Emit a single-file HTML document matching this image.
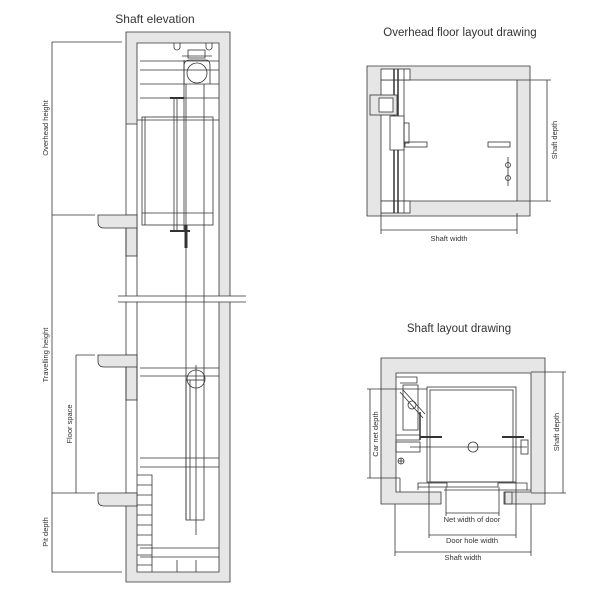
<!DOCTYPE html>
<html><head><meta charset="utf-8"><style>body{margin:0;background:#fff}svg{display:block}text{font-family:"Liberation Sans",sans-serif;fill:#333}</style></head><body>
<svg width="600" height="600" viewBox="0 0 600 600" xmlns="http://www.w3.org/2000/svg">
<g stroke="#333" stroke-width="0.8" fill="none">
<!-- ELEVATION -->
<!-- walls gray -->
<path d="M126,32 H230 V582 H126 V493 H137 V572 H219 V43 H137 V124 H126 Z" fill="#e6e6e6"/>
<rect x="126" y="215" width="11" height="41" fill="#e6e6e6"/>
<rect x="126" y="355" width="11" height="45" fill="#e6e6e6"/>
<line x1="126" y1="124" x2="126" y2="493"/>
<line x1="137" y1="124" x2="137" y2="493"/>
<!-- slabs -->
<path d="M98,215 H137 V228 H104 Q98,228 98,222 Z" fill="#e6e6e6"/>
<path d="M98,355 H137 V367 H104 Q98,367 98,361 Z" fill="#e6e6e6"/>
<path d="M98,493 H137 V506 H104 Q98,506 98,500 Z" fill="#e6e6e6"/>
<!-- break -->
<rect x="118" y="296" width="128" height="6" fill="#fff" stroke="none"/>
<line x1="118" y1="296" x2="246" y2="296"/><line x1="118" y1="302" x2="246" y2="302"/>
<!-- top lines -->
<line x1="140" y1="61" x2="219" y2="61"/><line x1="140" y1="70" x2="219" y2="70"/>
<line x1="140" y1="84" x2="219" y2="84"/><line x1="140" y1="98" x2="219" y2="98"/>
<line x1="137" y1="120" x2="219" y2="120"/>
<path d="M174,43 v4 a3,3 0 0 0 6,0 v-4 M206,43 v4 a3,3 0 0 0 6,0 v-4"/>
<rect x="188" y="50" width="17" height="8"/>
<line x1="182" y1="56" x2="212" y2="56"/>
<circle cx="197" cy="73" r="10"/>
<path d="M184,84 V66 Q184,60 190,60 H206 Q210,60 210,66 V84"/>
<!-- car -->
<rect x="142" y="117" width="71" height="108"/>
<line x1="145" y1="117" x2="145" y2="225"/>
<line x1="142" y1="213" x2="213" y2="213"/>
<!-- rails -->
<line x1="174" y1="98" x2="174" y2="230"/><line x1="177" y1="98" x2="177" y2="230"/>
<line x1="184" y1="60" x2="184" y2="230"/>
<line x1="170" y1="98" x2="184" y2="98" stroke-width="2"/>
<line x1="170" y1="231" x2="190" y2="231" stroke-width="2"/>
<line x1="186" y1="225" x2="186" y2="248" stroke-width="3"/>
<line x1="186" y1="248" x2="186" y2="520"/>
<line x1="204" y1="84" x2="204" y2="380"/>
<line x1="186" y1="84" x2="186" y2="225"/>
<!-- lower -->
<line x1="140" y1="368" x2="219" y2="368"/><line x1="140" y1="376" x2="219" y2="376"/>
<circle cx="196" cy="379" r="9"/>
<rect x="186" y="380" width="18" height="140"/>
<line x1="190" y1="380" x2="190" y2="520"/>
<line x1="196" y1="365" x2="196" y2="535"/>
<line x1="140" y1="458" x2="219" y2="458"/><line x1="140" y1="467" x2="219" y2="467"/>
<line x1="140" y1="548" x2="219" y2="548"/><line x1="140" y1="557" x2="219" y2="557"/>
<line x1="177" y1="560" x2="177" y2="572"/><line x1="196" y1="560" x2="196" y2="572"/>
<!-- ladder -->
<path d="M137,475 H152 V572 M137,485 H152 M137,495 H152 M137,505 H152 M137,515 H152 M137,525 H152 M137,535 H152 M137,545 H152 M137,555 H152 M137,565 H152"/>
<!-- dims -->
<line x1="52" y1="42" x2="52" y2="572"/>
<line x1="52" y1="42" x2="122" y2="42"/><line x1="52" y1="215" x2="95" y2="215"/>
<line x1="52" y1="493" x2="95" y2="493"/><line x1="52" y1="572" x2="122" y2="572"/>
<line x1="76" y1="355" x2="76" y2="493"/><line x1="76" y1="355" x2="95" y2="355"/>

<!-- OVERHEAD -->
<path d="M367,66 H530 V216 H367 Z M381,80 V201 H517 V80 Z" fill="#e6e6e6" fill-rule="evenodd"/>
<rect x="381" y="69" width="29" height="11" fill="#fff"/>
<rect x="381" y="201" width="29" height="12" fill="#fff"/>
<line x1="394" y1="69" x2="394" y2="213" stroke-width="1.5"/><line x1="398" y1="69" x2="398" y2="213" stroke-width="1.5"/>
<line x1="404" y1="69" x2="404" y2="213"/>
<rect x="370" y="95" width="27" height="20" fill="#e6e6e6"/>
<rect x="379" y="98" width="14" height="14" fill="#fff"/>
<rect x="390" y="116" width="14" height="34" fill="#fff"/>
<rect x="404" y="123" width="5" height="20"/>
<rect x="405" y="142" width="22" height="5"/>
<rect x="488" y="142" width="22" height="5"/>
<circle cx="508" cy="165" r="2.5"/><circle cx="508" cy="178" r="2.5"/>
<line x1="508" y1="157" x2="508" y2="186"/>
<line x1="381" y1="213" x2="381" y2="234"/><line x1="517" y1="213" x2="517" y2="234"/>
<line x1="381" y1="230" x2="517" y2="230"/>
<line x1="547" y1="80" x2="547" y2="201"/>
<line x1="517" y1="80" x2="551" y2="80"/><line x1="517" y1="201" x2="551" y2="201"/>

<!-- SHAFT LAYOUT -->
<path d="M381,358 H545 V504 H505 V492 H531 V373 H396 V492 H441 V504 H381 Z" fill="#e6e6e6"/>
<rect x="427" y="387" width="89" height="95"/>
<rect x="430" y="390" width="83" height="92"/>
<path d="M396,377 H417 V383 H400"/>
<rect x="403" y="385" width="15" height="45"/>
<path d="M400,392 L423,418 M403,390 L425,414" />
<circle cx="412" cy="405" r="4"/>
<line x1="420" y1="412" x2="420" y2="440" stroke-width="1.5"/>
<line x1="396" y1="435" x2="420" y2="435"/><line x1="396" y1="440" x2="420" y2="440"/>
<rect x="396" y="442" width="24" height="10"/>
<line x1="420" y1="437" x2="442" y2="437" stroke-width="2"/>
<line x1="502" y1="437" x2="524" y2="437" stroke-width="2"/>
<line x1="410" y1="447" x2="527" y2="447"/>
<rect x="521" y="440" width="7" height="14"/>
<circle cx="473" cy="447" r="5"/>
<circle cx="401" cy="461" r="3"/>
<path d="M398,461 L404,461 M401,458 L401,464"/>
<line x1="400" y1="478" x2="400" y2="492"/>
<path d="M418,490 V483 H447 V487 H418 M498,487 V483 H527 V490"/>
<line x1="447" y1="487" x2="498" y2="487"/>
<line x1="444" y1="490" x2="531" y2="490"/>
<rect x="504" y="492" width="8" height="12"/>
<!-- dims -->
<line x1="395" y1="504" x2="395" y2="556"/><line x1="531" y1="504" x2="531" y2="556"/>
<line x1="395" y1="552" x2="531" y2="552"/>
<line x1="429" y1="482" x2="429" y2="538"/><line x1="516" y1="482" x2="516" y2="538"/>
<line x1="429" y1="535" x2="516" y2="535"/>
<line x1="446" y1="487" x2="446" y2="516"/><line x1="499" y1="487" x2="499" y2="516"/>
<line x1="446" y1="513" x2="499" y2="513"/>
<line x1="370" y1="389" x2="370" y2="478"/>
<line x1="367" y1="389" x2="427" y2="389"/><line x1="367" y1="478" x2="400" y2="478"/>
<line x1="563" y1="372" x2="563" y2="493"/>
<line x1="531" y1="372" x2="566" y2="372"/><line x1="531" y1="493" x2="566" y2="493"/>
</g>
<text x="155" y="23" font-size="12" text-anchor="middle">Shaft elevation</text>
<text x="460" y="36" font-size="11.5" text-anchor="middle">Overhead floor layout drawing</text>
<text x="459" y="332" font-size="11.5" text-anchor="middle">Shaft layout drawing</text>
<g font-size="7.5">
<text transform="translate(48,128) rotate(-90)" text-anchor="middle">Overhead height</text>
<text transform="translate(48,355) rotate(-90)" text-anchor="middle">Travelling height</text>
<text transform="translate(72,424) rotate(-90)" text-anchor="middle">Floor space</text>
<text transform="translate(48,532) rotate(-90)" text-anchor="middle">Pit depth</text>
<text x="449" y="241" text-anchor="middle">Shaft width</text>
<text transform="translate(557,140) rotate(-90)" text-anchor="middle">Shaft depth</text>
<text transform="translate(378,434) rotate(-90)" text-anchor="middle">Car net depth</text>
<text transform="translate(559,432) rotate(-90)" text-anchor="middle">Shaft depth</text>
<text x="472" y="522" text-anchor="middle">Net width of door</text>
<text x="472" y="543" text-anchor="middle">Door hole width</text>
<text x="463" y="560" text-anchor="middle">Shaft width</text>
</g>
</svg>
</body></html>
